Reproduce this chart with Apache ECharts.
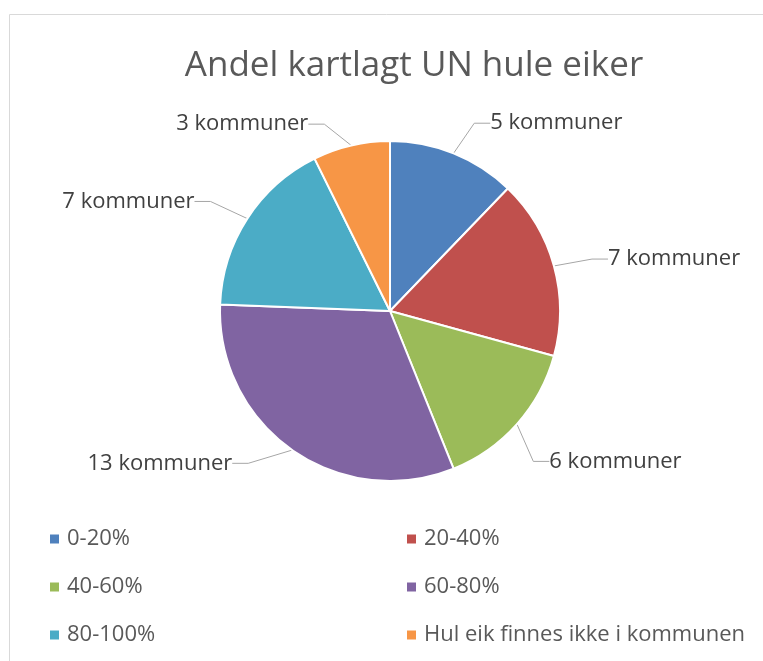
<!DOCTYPE html>
<html>
<head>
    <meta charset="utf-8">
    <script src="https://cdn.jsdelivr.net/npm/echarts@6/dist/echarts.min.js"></script>
    <style>
        body{
            margin:0;
            padding:0;
            background:#fff;
        }
        #main{
            width:763px;
            height:661px;
        }
    </style>
</head>
<body>
<div id="main"></div>
<script type="text/javascript">
// kategorier og antall kommuner
var categories = ['0-20%', '20-40%', '40-60%', '60-80%', '80-100%', 'Hul eik finnes ikke i kommunen'];
var counts = [5, 7, 6, 13, 7, 3];
var colors = ['#4F81BD', '#C0504D', '#9BBB59', '#8064A2', '#4BACC6', '#F79646'];
var leftLegend = ['0-20%', '40-60%', '80-100%'];
var rightLegend = ['20-40%', '60-80%', 'Hul eik finnes ikke i kommunen'];

var myChart = echarts.init(document.getElementById('main'));

var pieData = [];
for (var i = 0; i < categories.length; i++) {
  pieData.push({ name: categories[i], value: counts[i], itemStyle: { color: colors[i] } });
}

// små justeringer av etikettene, slik Excel plasserte dem
var labelNudge = [[0, -6], [2, 0], [-14, 20], [-18, -8], [-4, -3], [-10, 4]];

var legendBase = {
  orient: 'vertical',
  top: 523,
  icon: 'rect',
  itemWidth: 11,
  itemHeight: 11,
  itemGap: 26,
  selectedMode: false,
  textStyle: {
    fontFamily: 'Open Sans',
    fontSize: 22,
    color: '#595959',
    padding: [0, 0, 0, 2]
  }
};

var option = {
  animation: false,
  graphic: [
    {
      type: 'rect',
      shape: { x: 9.5, y: 14.5, width: 800, height: 700 },
      style: { fill: 'none', stroke: '#d9d9d9', lineWidth: 1 }
    }
  ],
  title: {
    text: 'Andel kartlagt UN hule eiker',
    left: 409,
    top: 44,
    textAlign: 'center',
    textStyle: {
      fontFamily: 'Open Sans',
      fontWeight: 'normal',
      fontSize: 35,
      color: '#595959'
    }
  },
  legend: [
    Object.assign({}, legendBase, { left: 43, data: leftLegend }),
    Object.assign({}, legendBase, { left: 400, data: rightLegend })
  ],
  series: [
    {
      type: 'pie',
      center: [390, 311],
      radius: 170,
      startAngle: 90,
      clockwise: true,
      itemStyle: {
        borderColor: '#fff',
        borderWidth: 2
      },
      label: {
        show: true,
        position: 'outside',
        formatter: '{c} kommuner',
        fontFamily: 'Open Sans',
        fontSize: 22,
        color: '#404040',
        padding: [0, 3]
      },
      labelLine: {
        show: true,
        length: 26,
        length2: 16,
        lineStyle: { color: '#a6a6a6', width: 1 }
      },
      labelLayout: function (params) {
        var n = labelNudge[params.dataIndex];
        var r = params.labelRect;
        var x = params.align === 'right' ? r.x + r.width : r.x;
        return { x: x + n[0], y: r.y + r.height / 2 + n[1] };
      },
      data: pieData
    }
  ]
};
myChart.setOption(option);
</script>
</body>
</html>
